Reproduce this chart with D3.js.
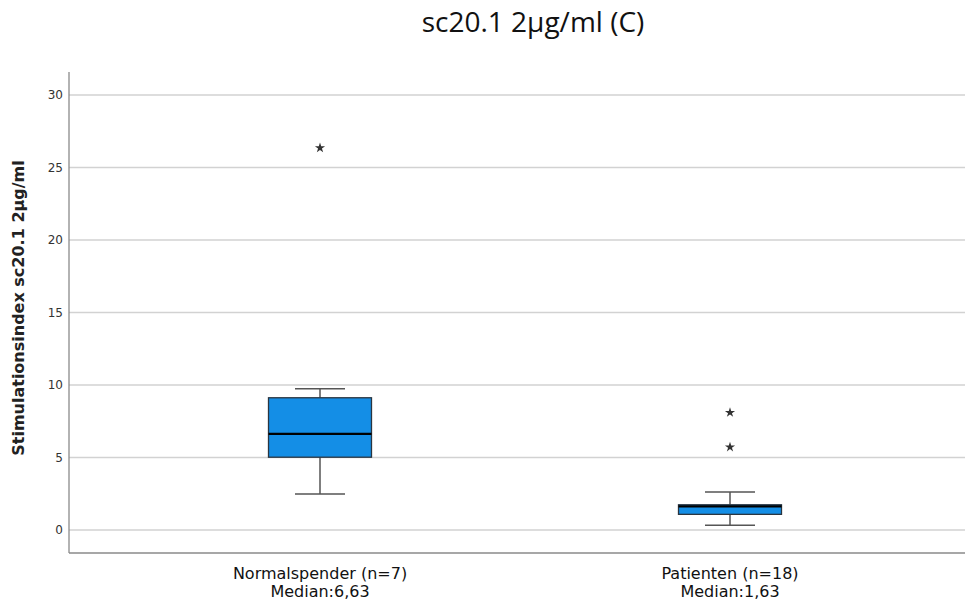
<!DOCTYPE html>
<html>
<head>
<meta charset="utf-8">
<script src="https://cdn.jsdelivr.net/npm/d3@7"></script>
<style>
  html, body { margin: 0; padding: 0; background: #fff; }
  svg { display: block; }
</style>
</head>
<body>
<svg id="chart" width="968" height="603"></svg>
<script>
// Groups and their box-plot statistics
const groups = ["Normalspender (n=7)", "Patienten (n=18)"];
const medianLabels = ["Median:6,63", "Median:1,63"];
const q1 = [5.02, 1.08];
const median = [6.63, 1.63];
const q3 = [9.12, 1.74];
const whiskerLow = [2.48, 0.32];
const whiskerHigh = [9.75, 2.62];
// Extreme values, marked with stars
const extremes = [[26.35], [8.1, 5.72]];
const yTicks = [0, 5, 10, 15, 20, 25, 30];

const svg = d3.select("#chart");
const plotLeft = 69, plotRight = 965, plotTop = 72, plotBottom = 553;

const x = d3.scalePoint().domain(groups).range([320, 730]);
// 0 sits at 530, 30 at 95
const y = d3.scaleLinear().domain([0, 30]).range([530, 95]);

// Title
svg.append("text")
  .attr("x", 533).attr("y", 32)
  .attr("text-anchor", "middle")
  .style("font-family", "'Open Sans', Lato, sans-serif")
  .style("font-size", "28px")
  .style("fill", "#111")
  .text("sc20.1 2\u03BCg/ml (C)");

// Grid lines
svg.append("g").selectAll("line").data(yTicks).join("line")
  .attr("x1", plotLeft).attr("x2", plotRight)
  .attr("y1", d => y(d)).attr("y2", d => y(d))
  .attr("stroke", "#d2d2d2").attr("stroke-width", 1.6);

// Y axis
const yAxis = d3.axisLeft(y).tickValues(yTicks).tickSize(0).tickPadding(6);
const gy = svg.append("g").attr("transform", `translate(${plotLeft},0)`).call(yAxis);
gy.select(".domain").remove();
gy.selectAll("text")
  .style("font-family", "'DejaVu Sans', sans-serif")
  .style("font-size", "12px")
  .style("fill", "#333");

svg.append("line").attr("x1", plotLeft).attr("x2", plotLeft).attr("y1", plotTop).attr("y2", plotBottom)
  .attr("stroke", "#8a8a8a").attr("stroke-width", 1.3);
svg.append("line").attr("x1", plotLeft).attr("x2", plotRight).attr("y1", plotBottom).attr("y2", plotBottom)
  .attr("stroke", "#8a8a8a").attr("stroke-width", 1.3);

// Y axis title
svg.append("text")
  .attr("transform", `translate(24,308) rotate(-90)`)
  .attr("text-anchor", "middle")
  .style("font-family", "'DejaVu Sans', sans-serif")
  .style("font-weight", "bold")
  .style("font-size", "16px")
  .style("fill", "#222")
  .text("Stimulationsindex sc20.1 2\u00B5g/ml");

const boxW = 103, capW = 50;
const g = svg.append("g");
groups.forEach((grp, i) => {
  const cx = x(grp);
  const gg = g.append("g");
  // whisker stems
  gg.append("line").attr("x1", cx).attr("x2", cx)
    .attr("y1", y(whiskerHigh[i])).attr("y2", y(q3[i]))
    .attr("stroke", "#555").attr("stroke-width", 1.5);
  gg.append("line").attr("x1", cx).attr("x2", cx)
    .attr("y1", y(q1[i])).attr("y2", y(whiskerLow[i]))
    .attr("stroke", "#555").attr("stroke-width", 1.5);
  // caps
  [whiskerHigh[i], whiskerLow[i]].forEach(v => {
    gg.append("line").attr("x1", cx - capW / 2).attr("x2", cx + capW / 2)
      .attr("y1", y(v)).attr("y2", y(v))
      .attr("stroke", "#555").attr("stroke-width", 1.5);
  });
  // box
  gg.append("rect")
    .attr("x", cx - boxW / 2).attr("width", boxW)
    .attr("y", y(q3[i])).attr("height", y(q1[i]) - y(q3[i]))
    .attr("fill", "#148ee6").attr("stroke", "#2a3540").attr("stroke-width", 1.3);
  // median
  gg.append("line").attr("x1", cx - boxW / 2).attr("x2", cx + boxW / 2)
    .attr("y1", y(median[i])).attr("y2", y(median[i]))
    .attr("stroke", "#000").attr("stroke-width", 2.3);
  // extremes
  const star = d3.symbol().type(d3.symbolStar).size(32);
  gg.selectAll("path.ext").data(extremes[i]).join("path")
    .attr("class", "ext")
    .attr("d", star)
    .attr("transform", d => `translate(${cx},${y(d)})`)
    .attr("fill", "#333");
  // category labels, two separate lines
  [[grp, 578.5], [medianLabels[i], 597]].forEach(([t, yy]) => {
    svg.append("text")
      .attr("x", cx).attr("y", yy).attr("text-anchor", "middle")
      .style("font-family", "'DejaVu Sans', sans-serif")
      .style("font-size", "16px")
      .style("fill", "#111")
      .text(t);
  });
});
</script>
</body>
</html>
